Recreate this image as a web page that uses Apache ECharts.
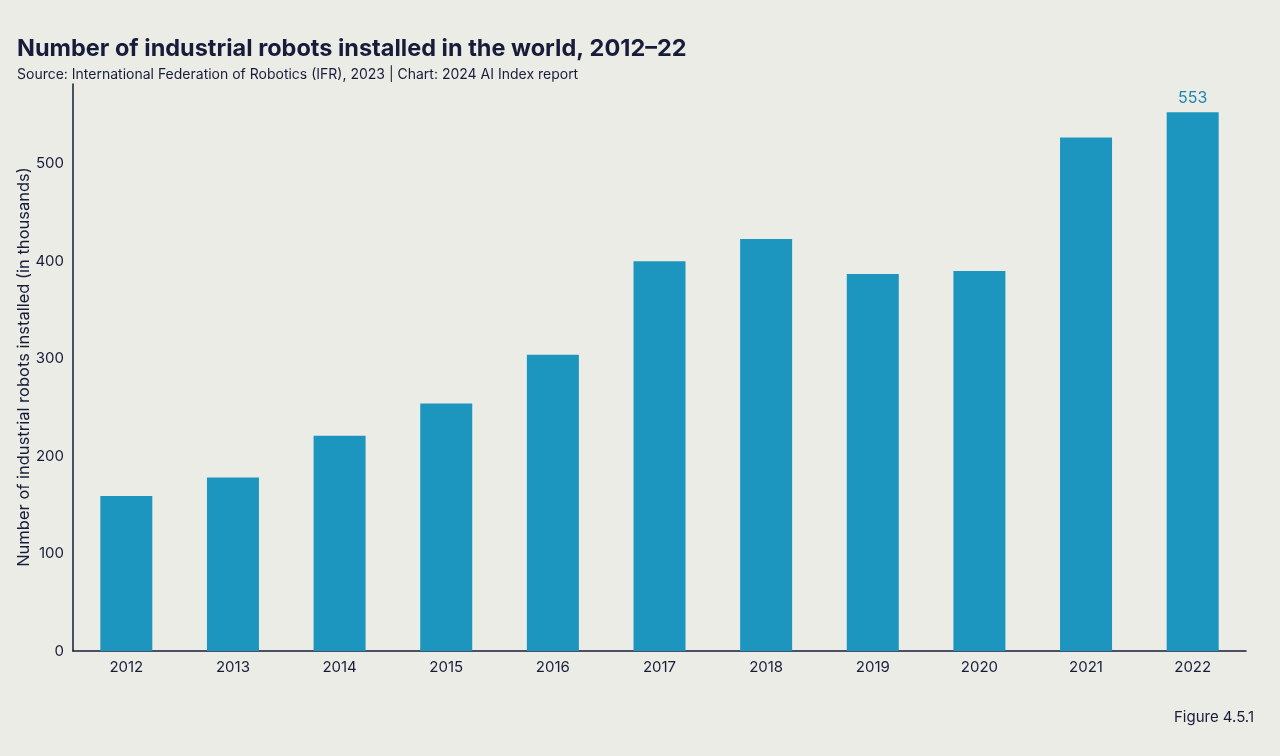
<!DOCTYPE html>
<html>
<head>
<meta charset="utf-8">
<script src="https://cdn.jsdelivr.net/npm/echarts@6/dist/echarts.min.js"></script>
<style>
html,body{margin:0;padding:0;background:#ecece6;}
#chart{width:1280px;height:756px;}
</style>
</head>
<body>
<div id="chart"></div>
<script>
const categories = ['2012','2013','2014','2015','2016','2017','2018','2019','2020','2021','2022'];
const robotsInstalled = [159, 178, 221, 254, 304, 400, 423, 387, 390, 527, 553];
const titleText = 'Number of industrial robots installed in the world, 2012–22';
const subtitleText = 'Source: International Federation of Robotics (IFR), 2023 | Chart: 2024 AI Index report';
const yAxisName = 'Number of industrial robots installed (in thousands)';
const figureText = 'Figure 4.5.1';

const navy = '#171c3a';
const barColor = '#1c96be';
const font = 'Inter, "Noto Sans", sans-serif';

const chart = echarts.init(document.getElementById('chart'));
const lastIdx = robotsInstalled.length - 1;
chart.setOption({
  backgroundColor: '#ecece6',
  textStyle: {fontFamily: font},
  title: [
    {text: titleText, left: 12, top: 32,
     textStyle: {fontFamily: font, fontSize: 23.5, fontWeight: 'bold', color: navy}},
    {text: subtitleText, left: 12, top: 63,
     textStyle: {fontFamily: font, fontSize: 14, fontWeight: 'normal', color: navy}},
    {text: figureText, right: 21, top: 705,
     textStyle: {fontFamily: font, fontSize: 15, fontWeight: 'normal', color: navy}}
  ],
  graphic: [{
    type: 'text',
    x: 24, y: 367,
    rotation: Math.PI / 2,
    style: {
      text: yAxisName,
      fill: navy,
      font: '16.5px ' + font,
      textAlign: 'center',
      textVerticalAlign: 'middle'
    }
  }],
  grid: {left: 73, right: 34, top: 84, bottom: 105, containLabel: false},
  xAxis: {
    type: 'category',
    data: categories,
    axisLine: {lineStyle: {color: navy, width: 1.5}},
    axisTick: {show: false},
    axisLabel: {color: navy, fontSize: 15, margin: 9, fontFamily: font}
  },
  yAxis: {
    type: 'value',
    min: 0, max: 582, interval: 100,
    axisLine: {show: true, lineStyle: {color: navy, width: 1.5}},
    axisTick: {show: false},
    splitLine: {show: false},
    axisLabel: {color: navy, fontSize: 15, margin: 9, fontFamily: font, showMaxLabel: false,
      formatter: v => (v % 100 === 0 ? String(v) : '')}
  },
  series: [{
    type: 'bar',
    barWidth: 52,
    itemStyle: {color: barColor},
    label: {show: false, position: 'top', color: '#1a87b0', fontSize: 16, fontFamily: font, distance: 6},
    data: robotsInstalled.map((v, i) => i === lastIdx ? {value: v, label: {show: true}} : v)
  }],
  animation: false
});
</script>
</body>
</html>
